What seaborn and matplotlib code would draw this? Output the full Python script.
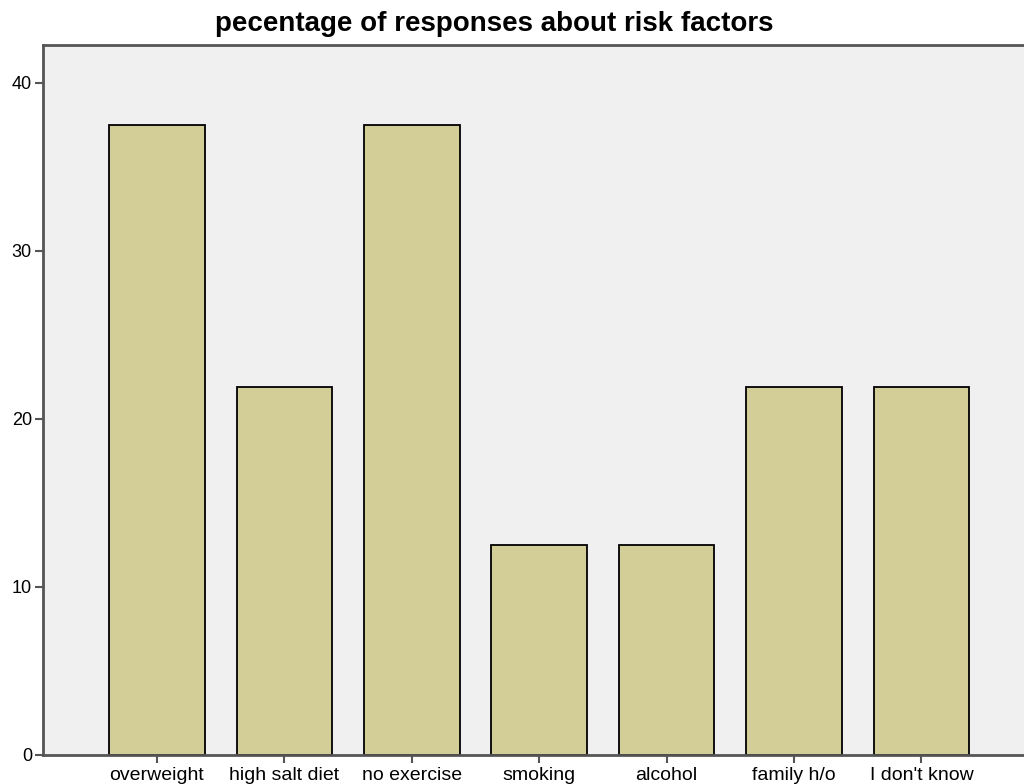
import pandas as pd
import matplotlib.pyplot as plt
import seaborn as sns
from matplotlib import font_manager as fm

categories = ['overweight', 'high salt diet', 'no exercise', 'smoking',
              'alcohol', 'family h/o', "I don't know"]
percent = [37.5, 21.875, 37.5, 12.5, 12.5, 21.875, 21.875]

data = pd.DataFrame({'factor': categories, 'percent': percent})

sns.set_style('white')
plt.rcParams['font.family'] = ['Liberation Sans', 'DejaVu Sans']

# pick the regular-width bold Liberation Sans (avoid Narrow)
bold_file = None
for f in fm.fontManager.ttflist:
    if f.name == 'Liberation Sans' and f.weight in (700, 'bold') \
            and 'Narrow' not in f.fname and 'Italic' not in f.fname:
        bold_file = f.fname
        break
title_font = fm.FontProperties(fname=bold_file, size=20) if bold_file \
    else fm.FontProperties(family='Liberation Sans', weight='bold', size=20)

fig = plt.figure(figsize=(10.24, 7.84), dpi=100)
ax = fig.add_axes([0.042, 0.037, 0.981, 0.9056])
ax.set_facecolor('#f0f0f0')

sns.barplot(data=data, x='factor', y='percent', color='#d3ce97',
            saturation=1, width=0.75, edgecolor='black', linewidth=1.3, ax=ax)

ax.set_xlim(-0.894, 6.99)
ax.set_ylim(0, 42.26)
ax.set_yticks([0, 10, 20, 30, 40])
ax.set_xlabel('')
ax.set_ylabel('')

for s in ax.spines.values():
    s.set_color('#555555')
    s.set_linewidth(2)

ax.tick_params(axis='both', bottom=True, left=True, direction='out',
               length=6, width=1.5, color='#555555', labelcolor='black', pad=2)
ax.tick_params(axis='x', labelsize=14, pad=3)
ax.tick_params(axis='y', labelsize=13)

fig.text(0.483, 0.97, 'pecentage of responses about risk factors',
         ha='center', va='center', color='black', fontproperties=title_font)

plt.savefig('out.png', dpi=100)
